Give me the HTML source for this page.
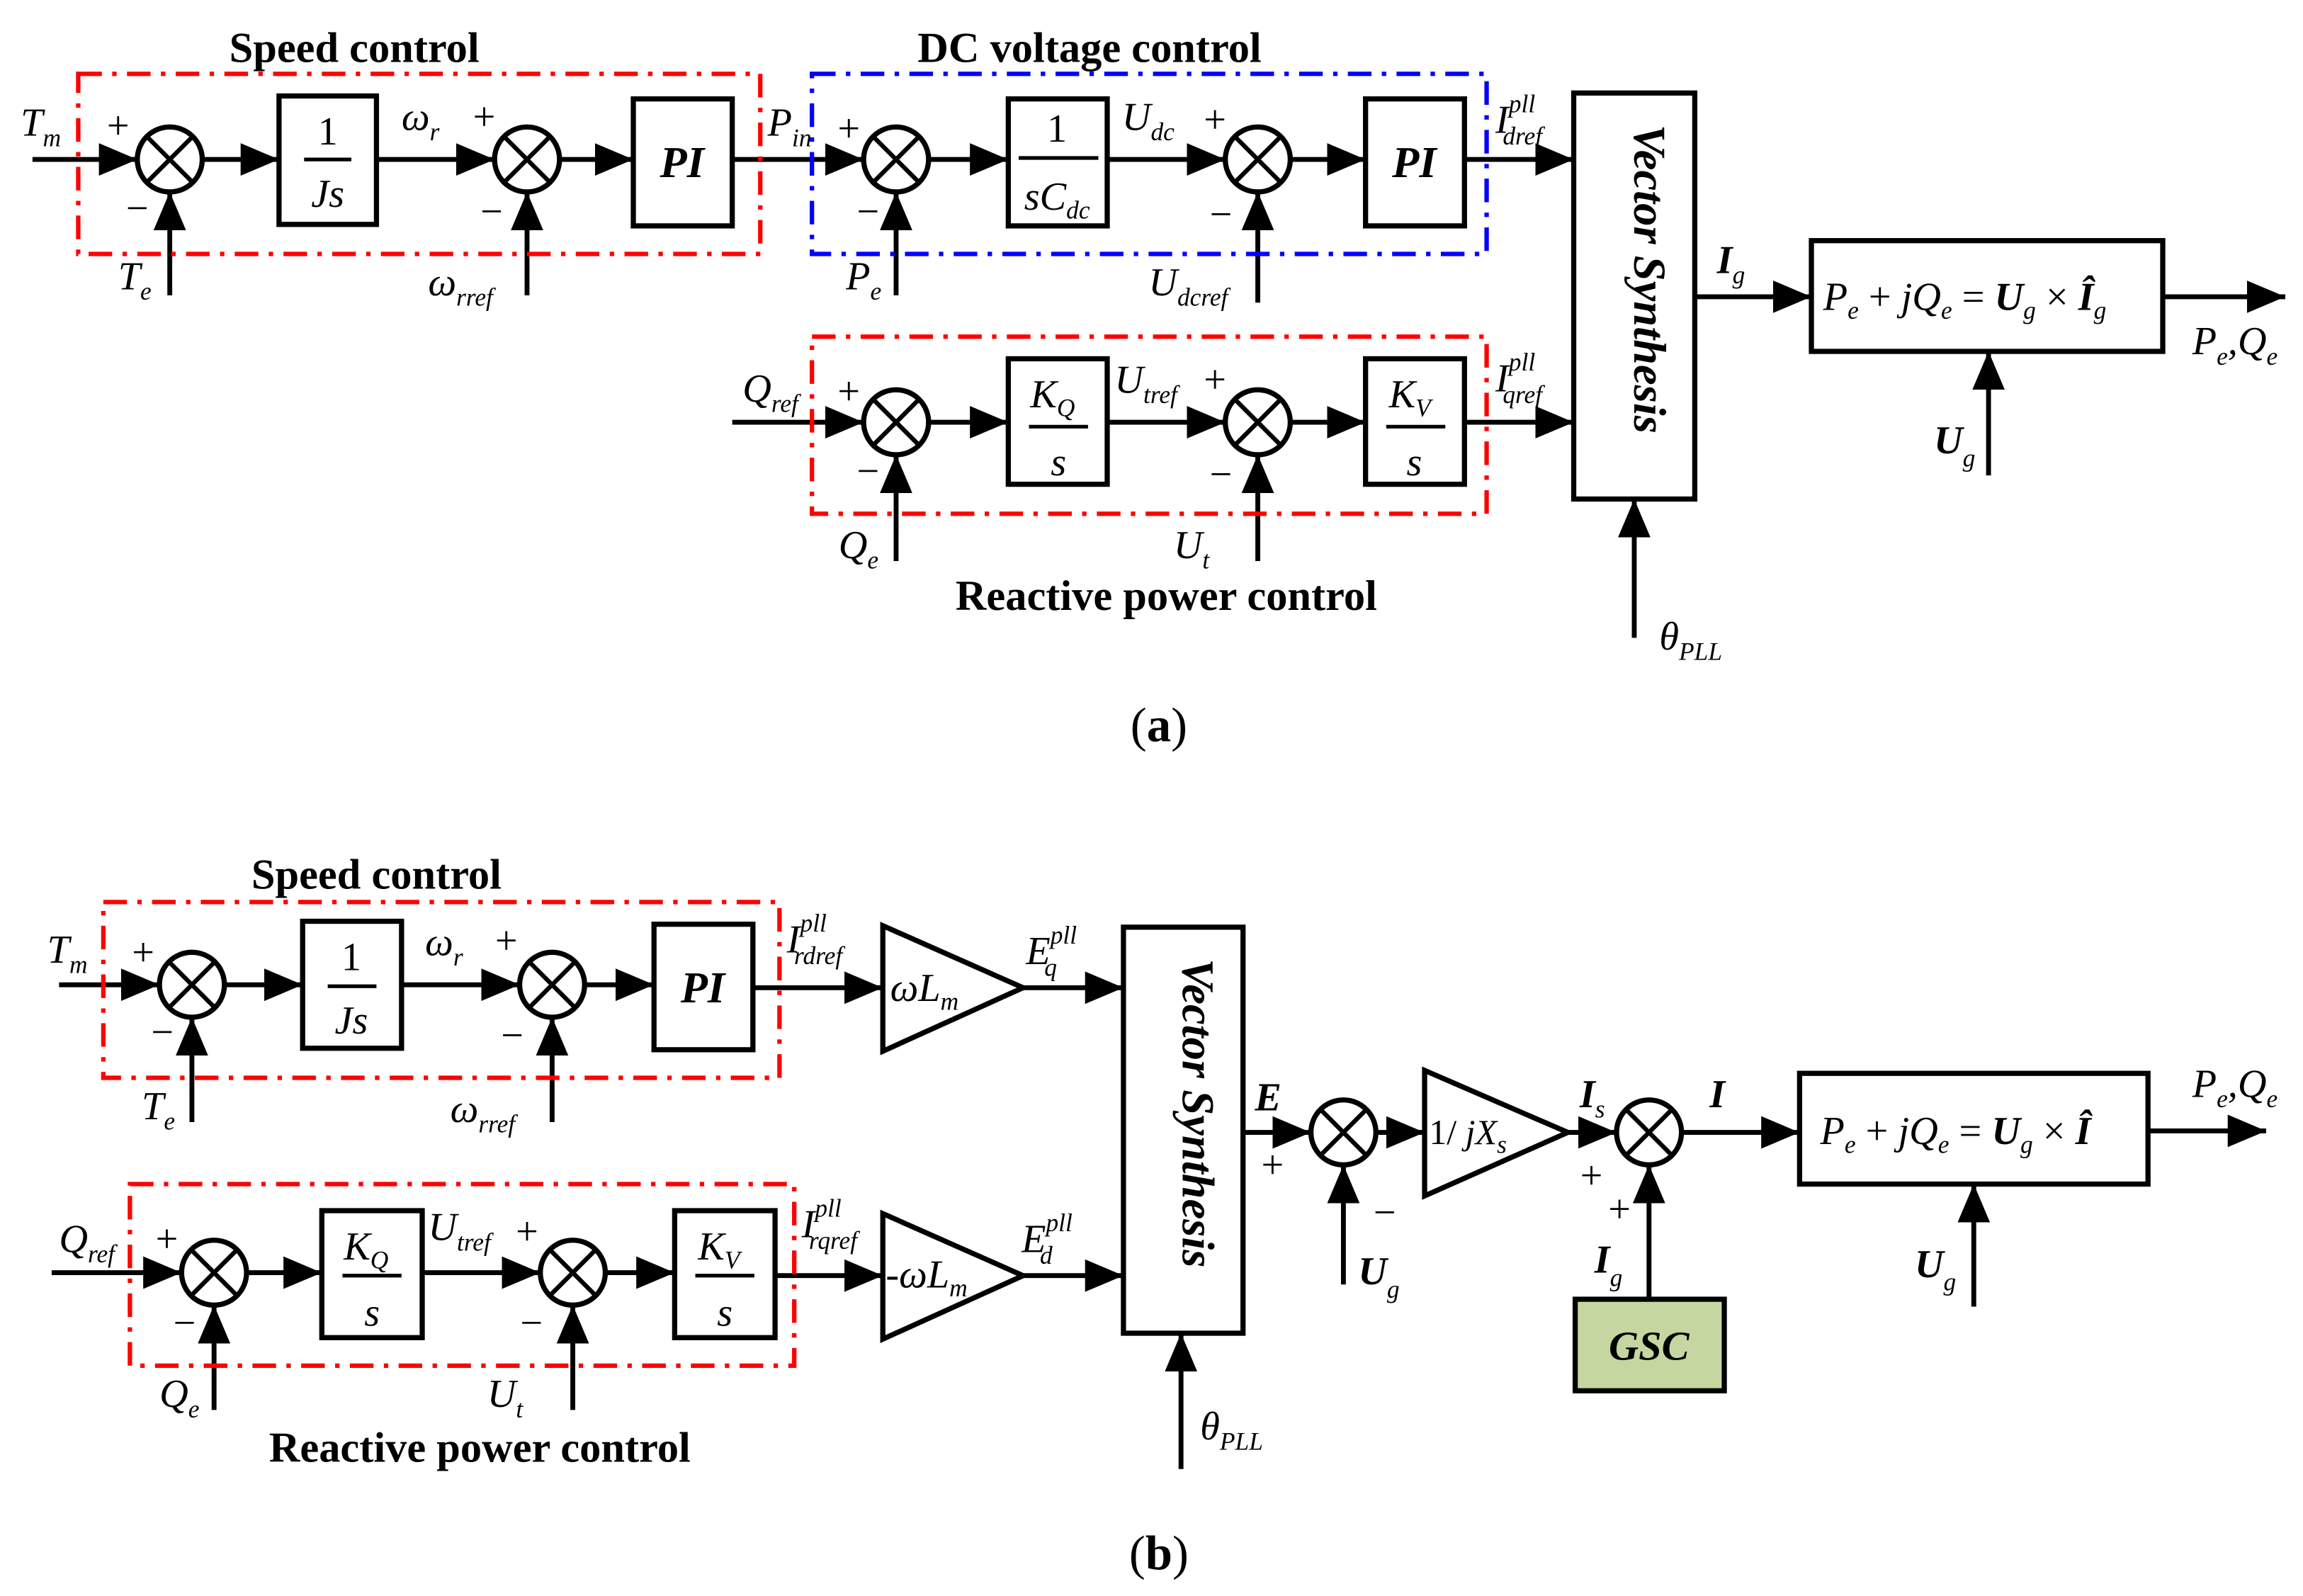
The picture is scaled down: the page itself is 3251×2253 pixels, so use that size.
<!DOCTYPE html>
<html><head><meta charset="utf-8"><style>
html,body{margin:0;padding:0;background:#fff;}
svg{display:block;}
text{font-family:"Liberation Serif",serif;}
.i{font-style:italic;font-size:27px;}
.s{font-size:17px;font-style:italic;}
.t{font-weight:bold;font-size:29px;}
.bi{font-weight:bold;font-style:italic;}
.pm{font-size:27px;}
</style></head><body>
<svg width="3251" height="2253" viewBox="0 0 1560 1081" preserveAspectRatio="none" xmlns="http://www.w3.org/2000/svg">
<defs>
<marker id="a" markerUnits="userSpaceOnUse" markerWidth="28" markerHeight="24" refX="26" refY="11" orient="auto"><path d="M0,0 L26,11 L0,22 z" fill="#000"/></marker>
<g id="sum"><circle r="22" fill="#fff" stroke="#000" stroke-width="3.5"/><path d="M-15.5,-15.5 L15.5,15.5 M15.5,-15.5 L-15.5,15.5" stroke="#000" stroke-width="3"/></g>
</defs>
<g stroke="#000" stroke-width="3.3" fill="none" marker-end="url(#a)">
<line x1="22" y1="108" x2="93" y2="108"/>
<line x1="137" y1="108" x2="189" y2="108"/>
<line x1="255" y1="108" x2="335" y2="108"/>
<line x1="379" y1="108" x2="429" y2="108"/>
<line x1="496" y1="108" x2="585" y2="108"/>
<line x1="629" y1="108" x2="683" y2="108"/>
<line x1="750" y1="108" x2="830" y2="108"/>
<line x1="874" y1="108" x2="925" y2="108"/>
<line x1="992" y1="108" x2="1066" y2="108"/>
<line x1="115" y1="200" x2="115" y2="130"/>
<line x1="357" y1="200" x2="357" y2="130"/>
<line x1="607" y1="200" x2="607" y2="130"/>
<line x1="852" y1="205" x2="852" y2="130"/>
<line x1="1107" y1="432" x2="1107" y2="338"/>
<line x1="1148" y1="201" x2="1227" y2="201"/>
<line x1="1465" y1="201" x2="1548" y2="201"/>
<line x1="1347" y1="322" x2="1347" y2="238"/>
<line x1="496" y1="286" x2="585" y2="286"/>
<line x1="629" y1="286" x2="683" y2="286"/>
<line x1="750" y1="286" x2="830" y2="286"/>
<line x1="874" y1="286" x2="925" y2="286"/>
<line x1="992" y1="286" x2="1066" y2="286"/>
<line x1="607" y1="380" x2="607" y2="308"/>
<line x1="852" y1="380" x2="852" y2="308"/>
<line x1="40" y1="667" x2="108" y2="667"/>
<line x1="152" y1="667" x2="205" y2="667"/>
<line x1="272" y1="667" x2="352" y2="667"/>
<line x1="396" y1="667" x2="443" y2="667"/>
<line x1="510" y1="669" x2="598" y2="669"/>
<line x1="693" y1="669" x2="761" y2="669"/>
<line x1="130" y1="760" x2="130" y2="689"/>
<line x1="374" y1="760" x2="374" y2="689"/>
<line x1="35" y1="862" x2="123" y2="862"/>
<line x1="167" y1="862" x2="218" y2="862"/>
<line x1="286" y1="862" x2="366" y2="862"/>
<line x1="410" y1="862" x2="457" y2="862"/>
<line x1="525" y1="864" x2="598" y2="864"/>
<line x1="693" y1="864" x2="761" y2="864"/>
<line x1="145" y1="955" x2="145" y2="884"/>
<line x1="388" y1="955" x2="388" y2="884"/>
<line x1="800" y1="995" x2="800" y2="903"/>
<line x1="842" y1="767" x2="888" y2="767"/>
<line x1="932" y1="767" x2="965" y2="767"/>
<line x1="1062" y1="767" x2="1095" y2="767"/>
<line x1="1139" y1="767" x2="1219" y2="767"/>
<line x1="1455" y1="766" x2="1535" y2="766"/>
<line x1="910" y1="870" x2="910" y2="789"/>
<line x1="1117" y1="880" x2="1117" y2="789"/>
<line x1="1337" y1="885" x2="1337" y2="802"/>
</g>
<g fill="none" stroke-width="3" stroke-dasharray="16 7 3 7">
<rect x="53" y="50" width="462" height="122" stroke="#f00"/>
<rect x="550" y="50" width="457" height="122" stroke="#00f"/>
<rect x="550" y="228" width="457" height="120" stroke="#f00"/>
<rect x="70" y="611" width="458" height="119" stroke="#f00"/>
<rect x="88" y="802" width="450" height="123" stroke="#f00"/>
</g>
<g fill="#fff" stroke="#000" stroke-width="3.5">
<rect x="189" y="65" width="66" height="87"/>
<rect x="429" y="67" width="67" height="86"/>
<rect x="683" y="67" width="67" height="86"/>
<rect x="925" y="67" width="67" height="86"/>
<rect x="1066" y="63" width="82" height="275"/>
<rect x="1227" y="163" width="238" height="75"/>
<rect x="683" y="243" width="67" height="85"/>
<rect x="925" y="243" width="67" height="85"/>
<rect x="205" y="624" width="67" height="86"/>
<rect x="443" y="626" width="67" height="85"/>
<rect x="218" y="820" width="68" height="86"/>
<rect x="457" y="820" width="68" height="86"/>
<rect x="761" y="628" width="81" height="275"/>
<rect x="1219" y="727" width="236" height="75"/>
<rect x="1067" y="880" width="101" height="62" fill="#c5d6a0"/>
<polygon points="598,627 598,712 693,669"/>
<polygon points="598,822 598,907 693,864"/>
<polygon points="965,725 965,810 1062,767"/>
</g>
<use href="#sum" x="115" y="108"/><use href="#sum" x="357" y="108"/>
<use href="#sum" x="607" y="108"/><use href="#sum" x="852" y="108"/>
<use href="#sum" x="607" y="286"/><use href="#sum" x="852" y="286"/>
<use href="#sum" x="130" y="667"/><use href="#sum" x="374" y="667"/>
<use href="#sum" x="145" y="862"/><use href="#sum" x="388" y="862"/>
<use href="#sum" x="910" y="767"/><use href="#sum" x="1117" y="767"/>
<g stroke="#000" stroke-width="2.5">
<line x1="206" y1="108" x2="238" y2="108"/>
<line x1="690" y1="107" x2="744" y2="107"/>
<line x1="697" y1="289" x2="737" y2="289"/>
<line x1="939" y1="289" x2="979" y2="289"/>
<line x1="222" y1="668" x2="255" y2="668"/>
<line x1="232" y1="864" x2="272" y2="864"/>
<line x1="471" y1="864" x2="511" y2="864"/>
</g>
<g class="t" text-anchor="middle">
<text x="240" y="42">Speed control</text>
<text x="738" y="42">DC voltage control</text>
<text x="790" y="413">Reactive power control</text>
<text x="255" y="602">Speed control</text>
<text x="325" y="990">Reactive power control</text>
<text x="785" y="502" font-weight="normal" font-size="33">(<tspan font-weight="bold">a</tspan>)</text>
<text x="785" y="1063" font-weight="normal" font-size="33">(<tspan font-weight="bold">b</tspan>)</text>
</g>
<g class="i" text-anchor="middle">
<text x="222" y="98" font-style="normal">1</text><text x="222" y="140">Js</text>
<text x="462" y="120" class="bi" font-size="30">PI</text>
<text x="716" y="96" font-style="normal">1</text><text x="716" y="142">sC<tspan class="s" dy="6">dc</tspan></text>
<text x="958" y="120" class="bi" font-size="30">PI</text>
<text x="713" y="276">K<tspan class="s" dy="6">Q</tspan></text><text x="717" y="322">s</text>
<text x="955" y="276">K<tspan class="s" dy="6">V</tspan></text><text x="958" y="322">s</text>
<text x="238" y="657" font-style="normal">1</text><text x="238" y="700">Js</text>
<text x="476" y="679" class="bi" font-size="30">PI</text>
<text x="248" y="853">K<tspan class="s" dy="6">Q</tspan></text><text x="252" y="898">s</text>
<text x="487" y="853">K<tspan class="s" dy="6">V</tspan></text><text x="491" y="898">s</text>
<text x="1117" y="921" class="bi" font-size="28">GSC</text>
</g>
<text x="1096" y="200" class="bi" font-size="31" text-anchor="middle" transform="rotate(90 1107 200)">Vector Synthesis</text>
<text x="790" y="765" class="bi" font-size="31" text-anchor="middle" transform="rotate(90 801 765)">Vector Synthesis</text>
<g class="i">
<text x="603" y="678">ωL<tspan class="s" dy="6">m</tspan></text>
<text x="600" y="872">-ωL<tspan class="s" dy="6">m</tspan></text>
<text x="968" y="775" font-size="24"><tspan font-style="normal">1/</tspan> jX<tspan class="s" dy="6">s</tspan></text>
<text x="1235" y="210">P<tspan class="s" dy="6">e</tspan><tspan dy="-6" font-style="normal"> + </tspan>jQ<tspan class="s" dy="6">e</tspan><tspan dy="-6" font-style="normal"> = </tspan><tspan font-weight="bold">U</tspan><tspan class="s" dy="6">g</tspan><tspan dy="-6" font-style="normal"> × </tspan><tspan font-weight="bold">Î</tspan><tspan class="s" dy="6">g</tspan></text>
<text x="1233" y="775">P<tspan class="s" dy="6">e</tspan><tspan dy="-6" font-style="normal"> + </tspan>jQ<tspan class="s" dy="6">e</tspan><tspan dy="-6" font-style="normal"> = </tspan><tspan font-weight="bold">U</tspan><tspan class="s" dy="6">g</tspan><tspan dy="-6" font-style="normal"> × </tspan><tspan font-weight="bold">Î</tspan></text>
<text x="14" y="92">T<tspan class="s" dy="7">m</tspan></text>
<text x="80" y="196">T<tspan class="s" dy="7">e</tspan></text>
<text x="272" y="88">ω<tspan class="s" dy="7">r</tspan></text>
<text x="290" y="200">ω<tspan class="s" dy="7">rref</tspan></text>
<text x="520" y="92">P<tspan class="s" dy="7">in</tspan></text>
<text x="573" y="196">P<tspan class="s" dy="7">e</tspan></text>
<text x="760" y="88">U<tspan class="s" dy="7">dc</tspan></text>
<text x="778" y="200">U<tspan class="s" dy="7">dcref</tspan></text>
<text x="1013" y="90">I<tspan class="s" dy="-14">pll</tspan><tspan class="s" dx="-22" dy="22">dref</tspan></text>
<text x="1013" y="265">I<tspan class="s" dy="-14">pll</tspan><tspan class="s" dx="-22" dy="22">qref</tspan></text>
<text x="1163" y="185" font-weight="bold">I<tspan class="s" dy="7" font-weight="normal">g</tspan></text>
<text x="1485" y="240">P<tspan class="s" dy="7">e</tspan><tspan dy="-7">,Q</tspan><tspan class="s" dy="7">e</tspan></text>
<text x="1310" y="307" font-weight="bold">U<tspan class="s" dy="9" font-weight="normal">g</tspan></text>
<text x="503" y="272">Q<tspan class="s" dy="7">ref</tspan></text>
<text x="568" y="378">Q<tspan class="s" dy="7">e</tspan></text>
<text x="755" y="266">U<tspan class="s" dy="7">tref</tspan></text>
<text x="795" y="378">U<tspan class="s" dy="7">t</tspan></text>
<text x="1124" y="440">θ<tspan class="s" dy="7">PLL</tspan></text>
<text x="32" y="652">T<tspan class="s" dy="7">m</tspan></text>
<text x="96" y="758">T<tspan class="s" dy="7">e</tspan></text>
<text x="288" y="647">ω<tspan class="s" dy="7">r</tspan></text>
<text x="305" y="760">ω<tspan class="s" dy="7">rref</tspan></text>
<text x="533" y="645">I<tspan class="s" dy="-14">pll</tspan><tspan class="s" dx="-22" dy="22">rdref</tspan></text>
<text x="695" y="653">E<tspan class="s" dy="-14">pll</tspan><tspan class="s" dx="-22" dy="22">q</tspan></text>
<text x="40" y="848">Q<tspan class="s" dy="7">ref</tspan></text>
<text x="108" y="953">Q<tspan class="s" dy="7">e</tspan></text>
<text x="290" y="840">U<tspan class="s" dy="7">tref</tspan></text>
<text x="330" y="953">U<tspan class="s" dy="7">t</tspan></text>
<text x="543" y="838">I<tspan class="s" dy="-14">pll</tspan><tspan class="s" dx="-22" dy="22">rqref</tspan></text>
<text x="692" y="848">E<tspan class="s" dy="-14">pll</tspan><tspan class="s" dx="-22" dy="22">d</tspan></text>
<text x="813" y="975">θ<tspan class="s" dy="7">PLL</tspan></text>
<text x="850" y="752" font-weight="bold">E</text>
<text x="920" y="870" font-weight="bold">U<tspan class="s" dy="9" font-weight="normal">g</tspan></text>
<text x="1070" y="750" font-weight="bold">I<tspan class="s" dy="7" font-weight="normal">s</tspan></text>
<text x="1158" y="750" font-weight="bold">I</text>
<text x="1080" y="862" font-weight="bold">I<tspan class="s" dy="9" font-weight="normal">g</tspan></text>
<text x="1485" y="743">P<tspan class="s" dy="7">e</tspan><tspan dy="-7">,Q</tspan><tspan class="s" dy="7">e</tspan></text>
<text x="1297" y="865" font-weight="bold">U<tspan class="s" dy="9" font-weight="normal">g</tspan></text>
</g>
<g class="pm" text-anchor="middle">
<text x="80" y="94">+</text><text x="93" y="150">−</text>
<text x="328" y="88">+</text><text x="333" y="152">−</text>
<text x="575" y="96">+</text><text x="588" y="152">−</text>
<text x="823" y="90">+</text><text x="827" y="154">−</text>
<text x="575" y="274">+</text><text x="588" y="328">−</text>
<text x="823" y="266">+</text><text x="827" y="330">−</text>
<text x="97" y="654">+</text><text x="110" y="708">−</text>
<text x="343" y="646">+</text><text x="347" y="710">−</text>
<text x="113" y="848">+</text><text x="125" y="905">−</text>
<text x="357" y="843">+</text><text x="360" y="905">−</text>
<text x="862" y="798">+</text><text x="938" y="830">−</text>
<text x="1078" y="805">+</text><text x="1097" y="828">+</text>
</g>
</svg>
</body></html>
